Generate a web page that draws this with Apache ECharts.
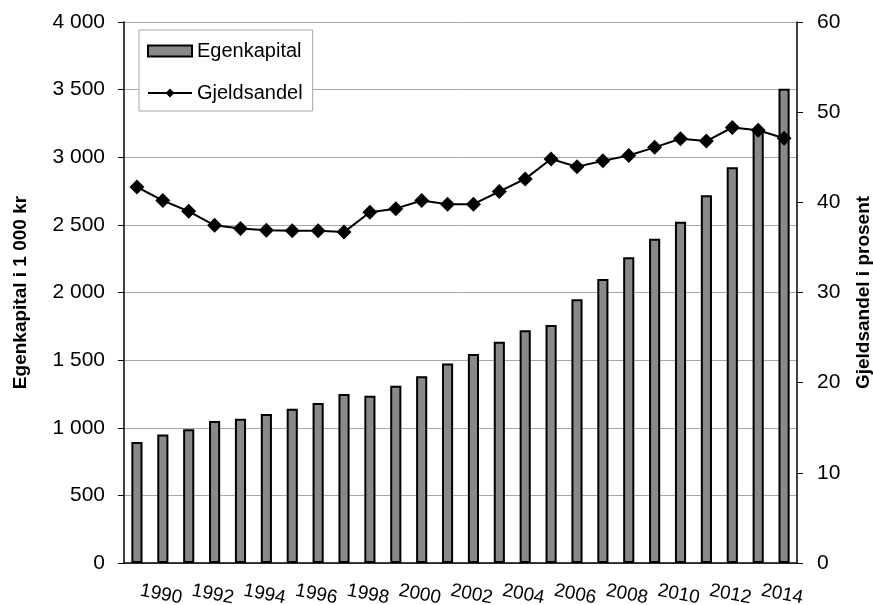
<!DOCTYPE html>
<html>
<head>
<meta charset="utf-8">
<script src="https://cdn.jsdelivr.net/npm/echarts@6/dist/echarts.min.js"></script>
<style>
  html, body { margin: 0; padding: 0; background: #fff; }
  #chart { width: 873px; height: 605px; }
</style>
</head>
<body>
<div id="chart"></div>
<script>
// år
const years = [
  "1989", "1990", "1991", "1992", "1993", "1994", "1995", "1996", "1997",
  "1998", "1999", "2000", "2001", "2002", "2003", "2004", "2005", "2006",
  "2007", "2008", "2009", "2010", "2011", "2012", "2013", "2014",
];
// egenkapital i 1 000 kr
const egenkapital = [
  895, 951, 989, 1050, 1067, 1102, 1141, 1183, 1250,
  1237, 1311, 1380, 1475, 1545, 1635, 1720, 1760, 1950,
  2100, 2260, 2398, 2524, 2719, 2926, 3190, 3507,
];
// gjeldsandel i prosent
const gjeldsandel = [
  41.7, 40.2, 39.0, 37.45, 37.1, 36.9, 36.85, 36.85, 36.7,
  38.9, 39.3, 40.2, 39.8, 39.8, 41.2, 42.6, 44.8, 43.95,
  44.6, 45.2, 46.1, 47.05, 46.8, 48.3, 48.0, 47.1,
];

const chart = echarts.init(document.getElementById("chart"));
const font = "'Liberation Sans', Arial, sans-serif";

// tusenskille med mellomrom
const fmt = (v) => String(v).replace(/\B(?=(\d{3})+(?!\d))/g, " ");

const option = {
  animation: false,
  textStyle: { fontFamily: font },
  grid: { left: 124, right: 76, top: 22, bottom: 42, outerBoundsMode: "none" },
  legend: {
    orient: "vertical",
    left: 139,
    top: 30,
    padding: [11, 10, 8, 8],
    itemGap: 22,
    itemWidth: 44,
    itemHeight: 11,
    backgroundColor: "#fff",
    borderColor: "#a6a6a6",
    borderWidth: 1,
    textStyle: { fontSize: 20, color: "#000", fontFamily: font },
    data: [
      {
        name: "Egenkapital",
        icon: "rect",
        itemStyle: { color: "#868a89", borderColor: "#000", borderWidth: 2 },
      },
      { name: "Gjeldsandel" },
    ],
  },
  xAxis: {
    type: "category",
    data: years,
    boundaryGap: true,
    axisLine: { lineStyle: { color: "#000", width: 1.5 } },
    axisTick: { interval: 0, length: 6, lineStyle: { color: "#777" } },
    axisLabel: {
      interval: (idx) => idx % 2 === 1,
      rotate: -11,
      align: "center",
      verticalAlign: "top",
      margin: 22,
      fontSize: 19,
      color: "#000",
      fontFamily: font,
    },
  },
  yAxis: [
    {
      type: "value",
      min: 0,
      max: 4000,
      interval: 500,
      name: "Egenkapital i 1 000 kr",
      nameLocation: "middle",
      nameGap: 94,
      nameTextStyle: { fontSize: 19, fontWeight: "bold", color: "#000", fontFamily: font },
      axisLine: { show: true, lineStyle: { color: "#000", width: 1.5 } },
      axisTick: { show: true, length: 6, lineStyle: { color: "#000" } },
      axisLabel: { formatter: fmt, fontSize: 21, color: "#000", margin: 19, fontFamily: font },
      splitLine: { lineStyle: { color: "#a6a6a6", width: 1 } },
    },
    {
      type: "value",
      min: 0,
      max: 60,
      interval: 10,
      name: "Gjeldsandel i prosent",
      nameLocation: "middle",
      nameGap: 57,
      nameRotate: 90,
      nameTextStyle: { fontSize: 19, fontWeight: "bold", color: "#000", fontFamily: font },
      axisLine: { show: true, lineStyle: { color: "#000", width: 1.5 } },
      axisTick: { show: true, length: 6, lineStyle: { color: "#000" } },
      axisLabel: { fontSize: 21, color: "#000", margin: 20, fontFamily: font },
      splitLine: { show: false },
    },
  ],
  series: [
    {
      name: "Egenkapital",
      type: "bar",
      yAxisIndex: 0,
      data: egenkapital,
      barWidth: "43%",
      itemStyle: { color: "#868a89", borderColor: "#000", borderWidth: 2 },
    },
    {
      name: "Gjeldsandel",
      type: "line",
      yAxisIndex: 1,
      data: gjeldsandel,
      symbol: "diamond",
      symbolSize: 15,
      lineStyle: { color: "#000", width: 2 },
      itemStyle: { color: "#000" },
    },
  ],
};

chart.setOption(option);
</script>
</body>
</html>
